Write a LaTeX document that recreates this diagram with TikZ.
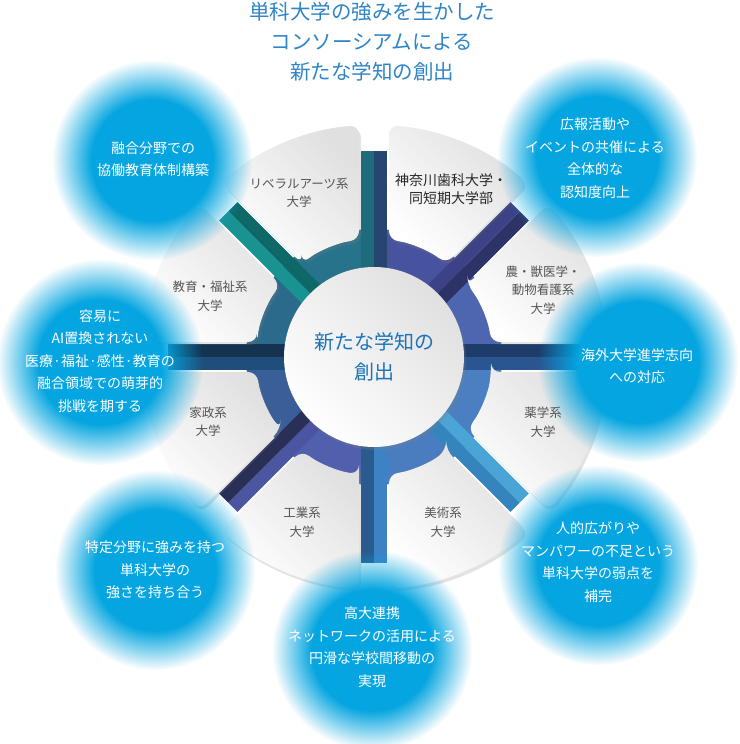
\documentclass[tikz,border=0pt]{standalone}
\usepackage{fontspec}
\setmainfont{Noto Sans CJK JP}
\usetikzlibrary{fadings,shadows}
\definecolor{bubblue}{HTML}{04A5E0}
\definecolor{titleblue}{HTML}{2E85C7}
\definecolor{centerblue}{HTML}{1B74BB}
\definecolor{labelgray}{HTML}{555555}
\definecolor{tilegray}{HTML}{E0E0E0}
\pgfdeclareradialshading{bubshade}{\pgfpointorigin}{color(0bp)=(pgftransparent!0); color(15bp)=(pgftransparent!0); color(25bp)=(pgftransparent!100); color(50bp)=(pgftransparent!100)}
\pgfdeclarefading{bubfade}{\pgfuseshading{bubshade}}
\tikzset{
  tile/.style={rounded corners=9pt, left color=tilegray, right color=white, shading angle=-45,
    drop shadow={shadow xshift=2pt, shadow yshift=-3pt, opacity=0.22}},
  bubble/.style={fill=bubblue, path fading=bubfade},
  bubtext/.style={text=white, align=center, font=\fontsize{14}{22.5}\selectfont},
  tiletext/.style={text=labelgray, align=center, font=\fontsize{12.5}{18.5}\selectfont},
  corecircle/.style={circle, minimum size=180pt, inner sep=0pt, left color=tilegray, right color=white,
    shading angle=-45, drop shadow={shadow xshift=2pt, shadow yshift=-3pt, opacity=0.25},
    text=centerblue, align=center, font=\fontsize{20}{30}\selectfont},
  titletext/.style={text=titleblue, align=center, font=\fontsize{20.5}{30}\selectfont},
}
\begin{document}
\begin{tikzpicture}[x=1pt, y=-1pt]
\fill[white] (0,0) rectangle (739,744);
\useasboundingbox (0,0) rectangle (739,744);
\begin{scope}[shift={(374,357)}]
  % ring sectors: visual centre angle / colour
  \foreach \c/\rc in {112.5/27738B, 157.5/2C6A8C, 202.5/3A5F98, 247.5/5060AD,
      292.5/4A7CC0, 337.5/4A80C2, 22.5/4D66AF, 67.5/4853A0} {
    \definecolor{rgc}{HTML}{\rc}
    \fill[rgc] (0,0) -- ({-\c-22.5}:128) arc[start angle={-\c-22.5}, end angle={-\c+22.5}, radius=128] -- cycle;
  }
  % spokes: visual angle / ccw-side colour / cw-side colour
  \foreach \s/\ca/\cb in {90/1F6B7E/27466F, 45/3C4285/2D3366, 0/1D3C6A/2A5590, -45/4BA4D6/3485BE,
      -90/3E82C6/2B5B8E, -135/4B55A2/2A2F57, 180/1F4E7A/143350, 135/199292/0E6868} {
    \definecolor{spA}{HTML}{\ca}
    \definecolor{spB}{HTML}{\cb}
    \begin{scope}[rotate=\s]
      \fill[spA] (60,-13) rectangle (206,0);
      \fill[spB] (60,0) rectangle (206,13);
    \end{scope}
  }
  % tiles
  \foreach \c in {22.5,67.5,112.5,157.5,202.5,247.5,292.5,337.5} {
    \shade[tile] ({-\c-15.2}:118) -- ({-\c-18.8}:232)
      arc[start angle={-\c-18.8}, end angle={-\c+18.8}, radius=232]
      -- ({-\c+15.2}:118)
      arc[start angle={-\c+15.2}, end angle={-\c-15.2}, radius=118] -- cycle;
  }
\end{scope}
% centre
\node[corecircle] (core) at (374,357) {新たな学知の\\創出};
% bubbles
\fill[bubble] (152,160) circle (100);
\fill[bubble] (100,362) circle (103);
\fill[bubble] (155,570) circle (100);
\fill[bubble] (372,650) circle (100);
\fill[bubble] (598,565) circle (100);
\fill[bubble] (638,362) circle (100);
\fill[bubble] (597,157) circle (100);
% bubble texts
\node[bubtext] (t1) at (153,159) {融合分野での\\協働教育体制構築};
\node[bubtext] (t2) at (100,361) {容易に\\AI置換されない\\医療·福祉·感性·教育の\\融合領域での萌芽的\\挑戦を期する};
\node[bubtext] (t3) at (155,570) {特定分野に強みを持つ\\単科大学の\\強さを持ち合う};
\node[bubtext] (t4) at (372,647) {高大連携\\ネットワークの活用による\\円滑な学校間移動の\\実現};
\node[bubtext] (t5) at (598,562) {人的広がりや\\マンパワーの不足という\\単科大学の弱点を\\補完};
\node[bubtext] (t6) at (637,366) {海外大学進学志向\\への対応};
\node[bubtext] (t7) at (595,158) {広報活動や\\イベントの共催による\\全体的な\\認知度向上};
% tile labels
\node[tiletext] (u1) at (299,193) {リベラルアーツ系\\大学};
\node[tiletext, text=black!85, font=\fontsize{14}{18.5}\selectfont] (u2) at (451,189) {神奈川歯科大学・\\同短期大学部};
\node[tiletext] (u3) at (543,290) {農・獣医学・\\動物看護系\\大学};
\node[tiletext] (u4) at (543,422) {薬学系\\大学};
\node[tiletext] (u5) at (443,522) {美術系\\大学};
\node[tiletext] (u6) at (302,522) {工業系\\大学};
\node[tiletext] (u7) at (208,422) {家政系\\大学};
\node[tiletext] (u8) at (210,296) {教育・福祉系\\大学};
% title
\node[titletext] (title) at (372,42) {単科大学の強みを生かした\\コンソーシアムによる\\新たな学知の創出};
\end{tikzpicture}
\end{document}
